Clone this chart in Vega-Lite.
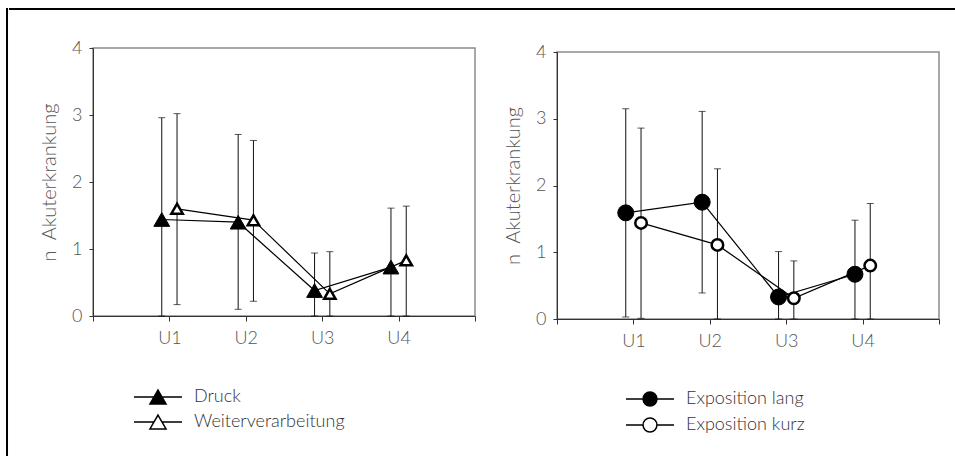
{
  "$schema": "https://vega.github.io/schema/vega-lite/v6.json",
  "padding": {"left": 6, "top": 8, "right": 0, "bottom": 0},
  "background": "white",
  "config": {
    "font": "Lato",
    "view": {"stroke": "#8c8c8c", "strokeWidth": 1.5},
    "axis": {"grid": false, "domainColor": "#333333", "tickColor": "#333333", "labelColor": "#555555", "titleColor": "#555555", "labelFontSize": 18, "labelFontWeight": 300, "titleFontSize": 20, "titleFontWeight": 300},
    "legend": {"labelFontSize": 18, "labelFontWeight": 300, "labelColor": "#333333"}
  },
  "spacing": 0,
  "hconcat": [
    {"width": 0.01, "height": 446, "data": {"values": []}, "mark": {"type": "point", "opacity": 0}, "view": {"stroke": "black", "strokeWidth": 2}},
    {
      "spacing": 27,
      "vconcat": [
        {"width": 946, "height": 0.01, "data": {"values": []}, "mark": {"type": "point", "opacity": 0}, "view": {"stroke": "black", "strokeWidth": 2}},
        {
          "spacing": 25,
          "resolve": {"scale": {"fill": "independent"}, "legend": {"fill": "independent"}},
          "hconcat": [
            {"width": 3, "height": 1, "data": {"values": []}, "mark": {"type": "point", "opacity": 0}, "view": {"stroke": null}},
            {
              "width": 382, "height": 268,
              "data": {"values": [
                {"s": "Druck", "x": 0.9, "m": 1.44, "lo": 0, "hi": 2.96},
                {"s": "Druck", "x": 1.9, "m": 1.40, "lo": 0.10, "hi": 2.71},
                {"s": "Druck", "x": 2.9, "m": 0.38, "lo": 0, "hi": 0.94},
                {"s": "Druck", "x": 3.9, "m": 0.73, "lo": 0, "hi": 1.61},
                {"s": "Weiterverarbeitung", "x": 1.1, "m": 1.60, "lo": 0.17, "hi": 3.02},
                {"s": "Weiterverarbeitung", "x": 2.1, "m": 1.43, "lo": 0.22, "hi": 2.62},
                {"s": "Weiterverarbeitung", "x": 3.1, "m": 0.33, "lo": 0, "hi": 0.96},
                {"s": "Weiterverarbeitung", "x": 4.1, "m": 0.83, "lo": 0, "hi": 1.64}
              ]},
              "encoding": {
                "x": {"field": "x", "type": "quantitative", "scale": {"domain": [0, 5], "nice": false, "zero": false},
                      "axis": {"values": [0, 1, 2, 3, 4, 5], "labelExpr": "datum.value >= 1 && datum.value <= 4 ? 'U' + datum.value : ''", "title": null, "tickSize": 5, "labelPadding": 8}}
              },
              "layer": [
                {"mark": {"type": "errorbar", "ticks": {"size": 7, "thickness": 1, "color": "#111111"}, "rule": {"color": "#111111", "strokeWidth": 1}},
                 "encoding": {
                   "y": {"field": "lo", "type": "quantitative", "scale": {"domain": [0, 4], "nice": false}, "title": "n\u00a0 Akuterkrankung",
                         "axis": {"values": [0, 1, 2, 3, 4], "format": "d", "tickSize": 4, "labelPadding": 7, "titlePadding": 12}},
                   "y2": {"field": "hi"}
                 }},
                {"mark": {"type": "line", "color": "black", "strokeWidth": 1.2},
                 "encoding": {
                   "y": {"field": "m", "type": "quantitative", "title": "n\u00a0 Akuterkrankung"},
                   "detail": {"field": "s"},
                   "order": {"field": "x"}
                 }},
                {"transform": [{"filter": "datum.s === 'Druck'"}],
                 "mark": {"type": "point", "shape": "triangle-up", "filled": true, "opacity": 1, "stroke": "black", "strokeWidth": 1, "size": 250},
                 "encoding": {
                   "y": {"field": "m", "type": "quantitative", "title": "n\u00a0 Akuterkrankung"},
                   "fill": {"field": "s", "type": "nominal", "scale": {"domain": ["Druck", "Weiterverarbeitung"], "range": ["black", "white"]},
                            "legend": {"orient": "none", "legendX": 52, "legendY": 336, "title": null, "symbolType": "M-2,0H-0.34M0.34,0H2M0,-0.58L0.67,0.58L-0.67,0.58Z", "symbolSize": 576, "symbolStrokeColor": "black", "symbolStrokeWidth": 1.5, "labelOffset": 23, "rowPadding": 2,
                                       "encode": {"symbols": {"update": {"stroke": {"value": "black"}, "strokeWidth": {"value": 1.5}, "opacity": {"value": 1}}}}}}
                 }},
                {"transform": [{"filter": "datum.s === 'Weiterverarbeitung'"}],
                 "mark": {"type": "point", "shape": "triangle-up", "filled": true, "opacity": 1, "stroke": "black", "strokeWidth": 2.5, "size": 130},
                 "encoding": {
                   "y": {"field": "m", "type": "quantitative", "title": "n\u00a0 Akuterkrankung"},
                   "fill": {"field": "s", "type": "nominal", "scale": {"domain": ["Druck", "Weiterverarbeitung"], "range": ["black", "white"]},
                            "legend": {"orient": "none", "legendX": 52, "legendY": 336, "title": null, "symbolType": "M-2,0H-0.34M0.34,0H2M0,-0.58L0.67,0.58L-0.67,0.58Z", "symbolSize": 576, "symbolStrokeColor": "black", "symbolStrokeWidth": 1.5, "labelOffset": 23, "rowPadding": 2,
                                       "encode": {"symbols": {"update": {"stroke": {"value": "black"}, "strokeWidth": {"value": 1.5}, "opacity": {"value": 1}}}}}}
                 }}
              ]
            },
            {
              "spacing": -7,
              "vconcat": [
                {"width": 0.01, "height": 0.01, "data": {"values": []}, "mark": {"type": "point", "opacity": 0}, "view": {"stroke": null}},
                {
                  "width": 382, "height": 267,
                  "data": {"values": [
                    {"s": "Exposition lang", "x": 0.9, "m": 1.59, "lo": 0.03, "hi": 3.15},
                    {"s": "Exposition lang", "x": 1.9, "m": 1.75, "lo": 0.39, "hi": 3.11},
                    {"s": "Exposition lang", "x": 2.9, "m": 0.33, "lo": 0, "hi": 1.01},
                    {"s": "Exposition lang", "x": 3.9, "m": 0.67, "lo": 0, "hi": 1.48},
                    {"s": "Exposition kurz", "x": 1.1, "m": 1.44, "lo": 0.01, "hi": 2.86},
                    {"s": "Exposition kurz", "x": 2.1, "m": 1.11, "lo": 0, "hi": 2.25},
                    {"s": "Exposition kurz", "x": 3.1, "m": 0.31, "lo": 0, "hi": 0.87},
                    {"s": "Exposition kurz", "x": 4.1, "m": 0.80, "lo": 0, "hi": 1.73}
                  ]},
                  "encoding": {
                    "x": {"field": "x", "type": "quantitative", "scale": {"domain": [0, 5], "nice": false, "zero": false},
                          "axis": {"values": [0, 1, 2, 3, 4, 5], "labelExpr": "datum.value >= 1 && datum.value <= 4 ? 'U' + datum.value : ''", "title": null, "tickSize": 5, "labelPadding": 8}}
                  },
                  "layer": [
                    {"mark": {"type": "errorbar", "ticks": {"size": 7, "thickness": 1, "color": "#111111"}, "rule": {"color": "#111111", "strokeWidth": 1}},
                     "encoding": {
                       "y": {"field": "lo", "type": "quantitative", "scale": {"domain": [0, 4], "nice": false}, "title": "n\u00a0 Akuterkrankung",
                             "axis": {"values": [0, 1, 2, 3, 4], "format": "d", "tickSize": 4, "labelPadding": 7, "titlePadding": 12}},
                       "y2": {"field": "hi"}
                     }},
                    {"mark": {"type": "line", "color": "black", "strokeWidth": 1.2},
                     "encoding": {
                       "y": {"field": "m", "type": "quantitative", "title": "n\u00a0 Akuterkrankung"},
                       "detail": {"field": "s"},
                       "order": {"field": "x"}
                     }},
                    {"transform": [{"filter": "datum.s === 'Exposition lang'"}],
                     "mark": {"type": "point", "shape": "circle", "filled": true, "opacity": 1, "stroke": "black", "strokeWidth": 1, "size": 256},
                     "encoding": {
                       "y": {"field": "m", "type": "quantitative", "title": "n\u00a0 Akuterkrankung"},
                       "fill": {"field": "s", "type": "nominal", "scale": {"domain": ["Exposition lang", "Exposition kurz"], "range": ["black", "white"]},
                                "legend": {"orient": "none", "legendX": 80, "legendY": 338, "title": null, "symbolType": "M-2,0H-0.58M0.58,0H2M0.58,0A0.58,0.58 0 1,1 -0.58,0A0.58,0.58 0 1,1 0.58,0Z", "symbolSize": 576, "symbolStrokeColor": "black", "symbolStrokeWidth": 1.5, "labelOffset": 23, "rowPadding": 3,
                                           "encode": {"symbols": {"update": {"stroke": {"value": "black"}, "strokeWidth": {"value": 1.5}, "opacity": {"value": 1}}}}}}
                     }},
                    {"transform": [{"filter": "datum.s === 'Exposition kurz'"}],
                     "mark": {"type": "point", "shape": "circle", "filled": true, "opacity": 1, "stroke": "black", "strokeWidth": 2.5, "size": 132},
                     "encoding": {
                       "y": {"field": "m", "type": "quantitative", "title": "n\u00a0 Akuterkrankung"},
                       "fill": {"field": "s", "type": "nominal", "scale": {"domain": ["Exposition lang", "Exposition kurz"], "range": ["black", "white"]},
                                "legend": {"orient": "none", "legendX": 80, "legendY": 338, "title": null, "symbolType": "M-2,0H-0.58M0.58,0H2M0.58,0A0.58,0.58 0 1,1 -0.58,0A0.58,0.58 0 1,1 0.58,0Z", "symbolSize": 576, "symbolStrokeColor": "black", "symbolStrokeWidth": 1.5, "labelOffset": 23, "rowPadding": 3,
                                           "encode": {"symbols": {"update": {"stroke": {"value": "black"}, "strokeWidth": {"value": 1.5}, "opacity": {"value": 1}}}}}}
                     }}
                  ]
                }
              ]
            }
          ]
        }
      ]
    }
  ]
}
